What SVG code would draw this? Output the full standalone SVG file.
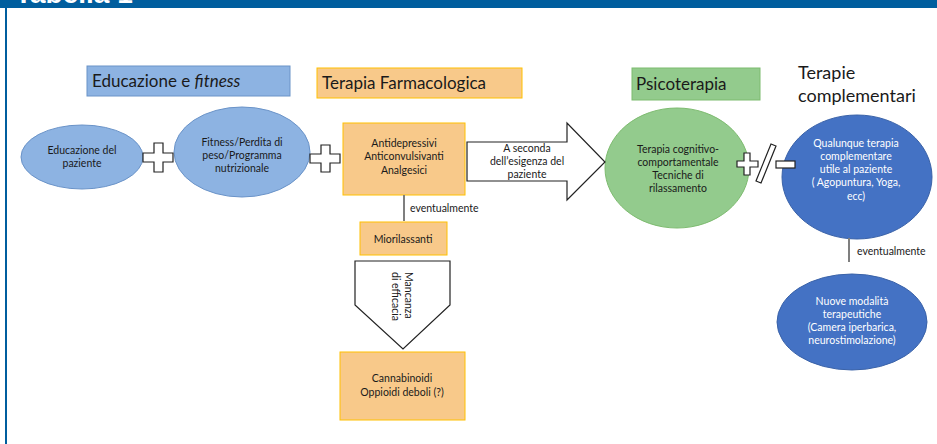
<svg xmlns="http://www.w3.org/2000/svg" width="937" height="444" viewBox="0 0 937 444">
<defs>
<style>
text{font-family:Lato,"Liberation Sans",sans-serif;fill:#1a1a1a}
.s{font-size:10.5px}
.t{font-size:17px}
.w{fill:#ffffff}
.c{text-anchor:middle}
.lb{fill:#8DB3E2;stroke:#6A93C8;stroke-width:1}
.or{fill:#F8C98A;stroke:#FFC000;stroke-width:1}
.gr{fill:#93CB8D;stroke:#7DBB6F;stroke-width:1}
.db{fill:#4472C4;stroke:#3A62A8;stroke-width:1}
.sym{fill:#ffffff;stroke:#222;stroke-width:1.2}
.ln{stroke:#7F7F7F;stroke-width:2;fill:none}
</style>
</defs>
<rect x="0" y="0" width="937" height="8" fill="#005E9E"/>
<text x="15" y="3" style="font-family:'Liberation Sans',sans-serif;font-weight:bold;font-size:28px;fill:#fff">Tabella 1</text>
<rect x="5" y="8" width="2" height="436" fill="#005E9E"/>

<g id="title-educazione">
<rect x="87" y="66" width="203" height="30" class="lb"/>
<text x="92" y="87" class="t">Educazione e <tspan font-style="italic">fitness</tspan></text>
</g>
<g id="title-farmaco">
<rect x="317" y="68" width="205" height="30" class="or"/>
<text x="322" y="89" class="t">Terapia Farmacologica</text>
</g>
<g id="title-psico">
<rect x="632" y="68" width="128" height="32" class="gr"/>
<text x="636" y="90" class="t">Psicoterapia</text>
</g>
<g id="title-complementari">
<text x="798" y="79" style="font-size:18px">Terapie</text>
<text x="798" y="102" style="font-size:18px">complementari</text>
</g>

<g id="educazione">
<ellipse cx="82" cy="157" rx="61" ry="32" class="lb"/>
<text x="82" y="154" class="s c">Educazione del</text>
<text x="82" y="167" class="s c">paziente</text>
</g>
<g id="fitness">
<ellipse cx="242" cy="152" rx="68" ry="45" class="lb"/>
<text x="242" y="146" class="s c">Fitness/Perdita di</text>
<text x="242" y="159" class="s c">peso/Programma</text>
<text x="242" y="172" class="s c">nutrizionale</text>
</g>
<g id="farmaci">
<rect x="343" y="123" width="122" height="72" class="or"/>
<text x="404" y="147" class="s c">Antidepressivi</text>
<text x="404" y="160" class="s c">Anticonvulsivanti</text>
<text x="404" y="174" class="s c">Analgesici</text>
</g>
<g id="miorilassanti">
<rect x="360" y="222" width="87" height="33" class="or"/>
<text x="403" y="243" class="s c">Miorilassanti</text>
</g>
<g id="cannabinoidi">
<rect x="340" y="352" width="125" height="68" class="or"/>
<text x="402" y="382" class="s c">Cannabinoidi</text>
<text x="402" y="396" class="s c">Oppioidi deboli (?)</text>
</g>
<g id="psicoterapia">
<ellipse cx="677" cy="168" rx="72" ry="60" class="gr"/>
<text x="678" y="153" class="s c">Terapia cognitivo-</text>
<text x="678" y="166" class="s c">comportamentale</text>
<text x="678" y="179" class="s c">Tecniche di</text>
<text x="678" y="192" class="s c">rilassamento</text>
</g>
<g id="complementari">
<ellipse cx="857" cy="177" rx="75" ry="62" class="db"/>
<text x="856" y="147" class="s c w">Qualunque terapia</text>
<text x="856" y="160" class="s c w">complementare</text>
<text x="856" y="173" class="s c w">utile al paziente</text>
<text x="856" y="186" class="s c w">( Agopuntura, Yoga,</text>
<text x="856" y="200" class="s c w">ecc)</text>
</g>
<g id="nuove">
<ellipse cx="852" cy="322" rx="75" ry="48" class="db"/>
<text x="852" y="305" class="s c w">Nuove modalità</text>
<text x="852" y="318" class="s c w">terapeutiche</text>
<text x="852" y="331" class="s c w">(Camera iperbarica,</text>
<text x="852" y="344" class="s c w">neurostimolazione)</text>
</g>

<g id="connectors">
<path class="sym" d="M154,143 h9 v10 h10 v9 h-10 v10 h-9 v-10 h-11 v-9 h11 z"/>
<path class="sym" d="M321,145 h9 v9 h10 v9 h-10 v9 h-9 v-9 h-11 v-9 h11 z"/>
<path class="sym" d="M744,153 h6 v8 h8 v6 h-8 v8 h-6 v-8 h-7 v-6 h7 z"/>
<path class="sym" d="M771,144 l5,2 l-15,37 l-5,-2 z"/>
<rect class="sym" x="776" y="161" width="19" height="7"/>
<path class="sym" d="M467,142 H567 V123 L605,162 L567,200 V181 H467 Z"/>
<text x="527" y="152" class="s c">A seconda</text>
<text x="527" y="165" class="s c">dell’esigenza del</text>
<text x="527" y="178" class="s c">paziente</text>
<path class="sym" d="M355,261 H450 V305 L403,349 L355,305 Z"/>
<text transform="translate(405,272) rotate(90)" class="s">Mancanza</text>
<text transform="translate(392,272) rotate(90)" class="s">di efficacia</text>
<line class="ln" x1="404" y1="195" x2="404" y2="221"/>
<text x="410" y="212" class="s">eventualmente</text>
<line class="ln" x1="849" y1="238" x2="849" y2="262"/>
<text x="857" y="255" class="s">eventualmente</text>
</g>
</svg>
